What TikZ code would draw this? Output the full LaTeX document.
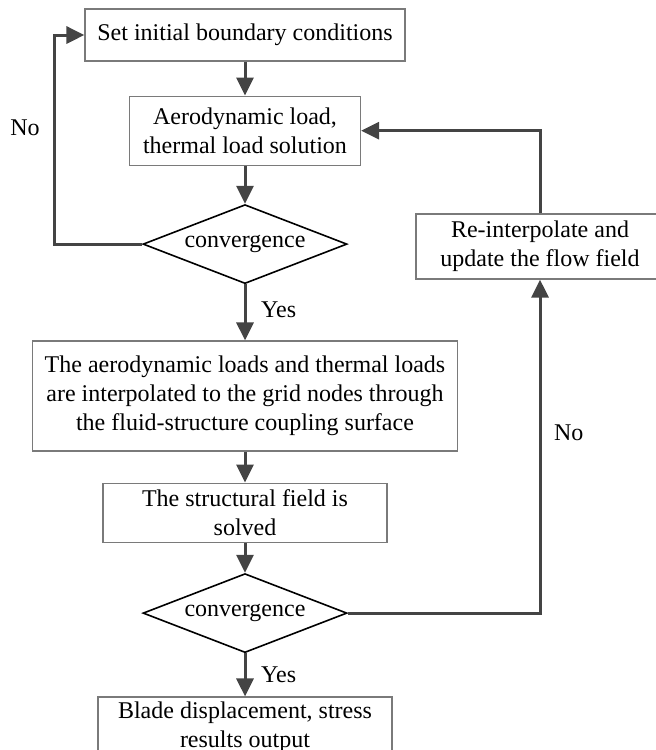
\documentclass[tikz,border=0pt]{standalone}
\usepackage{fontspec}
\setmainfont{Liberation Serif}
\usepackage{xcolor}
\usetikzlibrary{arrows.meta,positioning,shapes.geometric}
\definecolor{linegray}{HTML}{444444}
\definecolor{boxgray}{HTML}{7A7A7A}

\begin{document}
\begin{tikzpicture}[
    >={Triangle[length=9pt,width=8.5pt]},
    font=\fontsize{12}{14.5}\selectfont,
    box/.style={rectangle,draw=boxgray,line width=0.6pt,align=center,inner sep=1pt},
    test/.style={diamond,draw,line width=0.8pt,aspect=2.6,inner sep=0pt,
                 minimum width=102pt,minimum height=39.5pt},
    flow/.style={->,draw=linegray,line width=1.5pt}
]
\useasboundingbox (0,0) rectangle (327.5pt,-375pt);

% Main column
\node[box,minimum width=160pt,minimum height=26pt] (init) at (122.5pt,-17.5pt)
    {Set initial boundary conditions};
\node[box,below=17pt of init,minimum width=115.5pt,minimum height=34.5pt] (load)
    {Aerodynamic load,\\thermal load solution};
\node[test,below=19pt of load] (conv1) {convergence};
\node[box,below=28pt of conv1,minimum width=212.5pt,minimum height=55pt] (interp)
    {The aerodynamic loads and thermal loads\\are interpolated to the grid nodes through\\the fluid-structure coupling surface};
\node[box,below=15.5pt of interp,minimum width=142pt,minimum height=29.5pt] (solve)
    {The structural field is\\solved};
\node[test,below=15pt of solve] (conv2) {convergence};
\node[box,below=21.5pt of conv2,minimum width=147pt,minimum height=30pt] (output)
    {Blade displacement, stress\\results output};

% Flow field update
\node[box,minimum width=124pt,minimum height=32.5pt] (update) at (270pt,-123.25pt)
    {Re-interpolate and\\update the flow field};

% Forward arrows
\draw[flow] (init) -- (load);
\draw[flow] (load) -- (conv1);
\draw[flow] (conv1) -- node[pos=0.45,right=4pt] {Yes} (interp);
\draw[flow] (interp) -- (solve);
\draw[flow] (solve) -- (conv2);
\draw[flow] (conv2) -- node[pos=0.5,right=4pt] {Yes} (output);

% Loops back
\coordinate (loopL) at (27pt,0);
\draw[flow] (conv1.west) -- (conv1.west -| loopL) |- (init.west);
\node (no1) at (12.5pt,-64pt) {No};
\draw[flow] (conv2.east) -| node[pos=0.77,right=3pt] {No} (update.south);
\draw[flow] (update.north) |- (load.east);

\end{tikzpicture}
\end{document}
